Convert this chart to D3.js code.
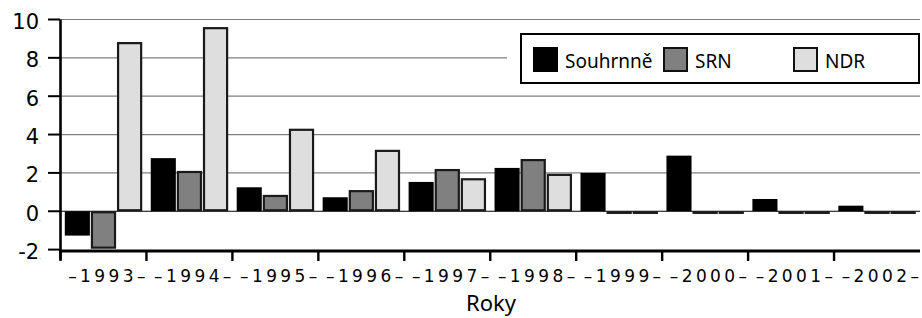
<!DOCTYPE html>
<html>
<head>
<meta charset="utf-8">
<script src="https://cdnjs.cloudflare.com/ajax/libs/d3/7.8.5/d3.min.js"></script>
<style>
  html, body { margin: 0; padding: 0; background: #fff; }
  svg { display: block; }
</style>
</head>
<body>
<script>
  // data
  var years = ['1993', '1994', '1995', '1996', '1997', '1998', '1999', '2000', '2001', '2002'];
  var seriesNames = ['Souhrnně', 'SRN', 'NDR'];
  var souhrnne = [-1.27, 2.77, 1.25, 0.73, 1.53, 2.26, 2.0, 2.9, 0.64, 0.29];
  var srn = [-1.95, 2.1, 0.85, 1.1, 2.2, 2.72, 0, 0, 0, 0];
  var ndr = [8.82, 9.6, 4.3, 3.2, 1.72, 1.95, 0, 0, 0, 0];
  var yTicks = [-2, 0, 2, 4, 6, 8, 10];

  var fills = ['#000000', '#808080', '#dedede'];
  var strokes = ['#000000', '#1a1a1a', '#1a1a1a'];

  var w = 922, h = 318;
  var svg = d3.select('body').append('svg')
    .attr('width', w)
    .attr('height', h);

  var x0 = d3.scaleBand()
    .domain(years)
    .range([60.5, 920])
    .paddingInner(0.1)
    .paddingOuter(0.05);

  var x1 = d3.scaleBand()
    .domain(d3.range(seriesNames.length))
    .range([0, x0.bandwidth()])
    .paddingInner(0.04);

  var y = d3.scaleLinear()
    .domain([-2, 10])
    .range([249.6, 19.5]);

  // gridlines
  svg.selectAll('line.grid')
    .data(yTicks.filter(function(d) { return d > 0; }))
    .enter()
    .append('line')
    .attr('class', 'grid')
    .attr('x1', 60)
    .attr('x2', 920)
    .attr('y1', function(d) { return y(d); })
    .attr('y2', function(d) { return y(d); })
    .attr('stroke', '#808080')
    .attr('stroke-width', 1.2);

  // zero line
  svg.append('line')
    .attr('x1', 60).attr('x2', 920)
    .attr('y1', y(0)).attr('y2', y(0))
    .attr('stroke', '#000')
    .attr('stroke-width', 1.2);

  // bars
  var rows = years.map(function(yr, i) {
    return { year: yr, values: [souhrnne[i], srn[i], ndr[i]] };
  });

  var groups = svg.selectAll('g.year')
    .data(rows)
    .enter()
    .append('g')
    .attr('class', 'year')
    .attr('transform', function(d) { return 'translate(' + x0(d.year) + ',0)'; });

  groups.selectAll('rect')
    .data(function(d) { return d.values.map(function(v, k) { return { k: k, v: v }; }); })
    .enter()
    .append('rect')
    .attr('x', function(d) { return x1(d.k) + (d.k === 0 ? 0 : 1); })
    .attr('width', function(d) { return x1.bandwidth() - (d.k === 0 ? 0 : 2); })
    .attr('y', function(d) { return Math.min(y(d.v), y(0)) + (d.k === 0 ? 0 : 1); })
    .attr('height', function(d) {
      var hh = Math.abs(y(d.v) - y(0)) - (d.k === 0 ? 0 : 2);
      return Math.max(hh, 0.6);
    })
    .attr('fill', function(d) { return fills[d.k]; })
    .attr('stroke', function(d) { return d.k === 0 ? 'none' : strokes[d.k]; })
    .attr('stroke-width', 2.2);

  // y axis
  svg.append('line')
    .attr('x1', 60.5).attr('x2', 60.5)
    .attr('y1', y(10)).attr('y2', 260)
    .attr('stroke', '#000')
    .attr('stroke-width', 2.6);

  svg.selectAll('line.ytick')
    .data(yTicks)
    .enter()
    .append('line')
    .attr('class', 'ytick')
    .attr('x1', 48).attr('x2', 60)
    .attr('y1', function(d) { return y(d); })
    .attr('y2', function(d) { return y(d); })
    .attr('stroke', '#000')
    .attr('stroke-width', 2);

  var ylab = svg.selectAll('text.ylab')
    .data(yTicks)
    .enter()
    .append('text')
    .attr('class', 'ylab')
    .attr('x', 41)
    .attr('y', function(d) { return y(d) + 9.5; })
    .attr('text-anchor', 'end')
    .attr('font-family', 'DejaVu Sans')
    .attr('font-size', '21px')
    .attr('fill', '#000');
  ylab.append('tspan').text(function(d) { return d; });
  ylab.append('tspan').attr('font-size', '6px').attr('fill', '#555').text('.');

  // x axis
  svg.append('line')
    .attr('x1', 59).attr('x2', 920)
    .attr('y1', 251).attr('y2', 251)
    .attr('stroke', '#000')
    .attr('stroke-width', 3);

  svg.selectAll('line.xtick')
    .data(years)
    .enter()
    .append('line')
    .attr('class', 'xtick')
    .attr('x1', function(d) { return x0(d) - x0.step() * 0.05; })
    .attr('x2', function(d) { return x0(d) - x0.step() * 0.05; })
    .attr('y1', 251).attr('y2', 261)
    .attr('stroke', '#000')
    .attr('stroke-width', 2.4);

  svg.selectAll('text.xlab')
    .data(years)
    .enter()
    .append('text')
    .attr('class', 'xlab')
    .attr('x', function(d) { return x0(d) + x0.bandwidth() / 2 + 5; })
    .attr('y', 282)
    .attr('text-anchor', 'middle')
    .attr('font-family', 'DejaVu Sans')
    .attr('font-size', '17px')
    .attr('letter-spacing', '3.4px')
    .attr('fill', '#000')
    .text(function(d) { return '–' + d + '–'; });

  svg.append('text')
    .attr('x', 491)
    .attr('y', 311)
    .attr('text-anchor', 'middle')
    .attr('font-family', 'Noto Sans')
    .attr('font-size', '22px')
    .attr('fill', '#000')
    .text('Roky');

  // legend
  svg.append('rect')
    .attr('x', 507).attr('y', 28)
    .attr('width', 415).attr('height', 60)
    .attr('fill', '#fff');
  svg.append('rect')
    .attr('x', 521).attr('y', 34)
    .attr('width', 398).attr('height', 49)
    .attr('fill', '#fff')
    .attr('stroke', '#000')
    .attr('stroke-width', 2);

  var legendX = [533, 663, 793];
  var leg = svg.selectAll('g.leg')
    .data(seriesNames)
    .enter()
    .append('g')
    .attr('class', 'leg')
    .attr('transform', function(d, i) { return 'translate(' + legendX[i] + ',47)'; });

  leg.append('rect')
    .attr('x', function(d, i) { return i === 0 ? 0 : 1; })
    .attr('y', function(d, i) { return i === 0 ? 0 : 1; })
    .attr('width', function(d, i) { return i === 0 ? 25 : 23; })
    .attr('height', function(d, i) { return i === 0 ? 25 : 23; })
    .attr('fill', function(d, i) { return fills[i]; })
    .attr('stroke', function(d, i) { return i === 0 ? 'none' : '#111'; })
    .attr('stroke-width', 2);

  leg.append('text')
    .attr('x', 32)
    .attr('y', 21)
    .attr('font-family', 'Noto Sans')
    .attr('font-size', '19px')
    .attr('fill', '#000')
    .text(function(d) { return d; });
</script>
</body>
</html>
